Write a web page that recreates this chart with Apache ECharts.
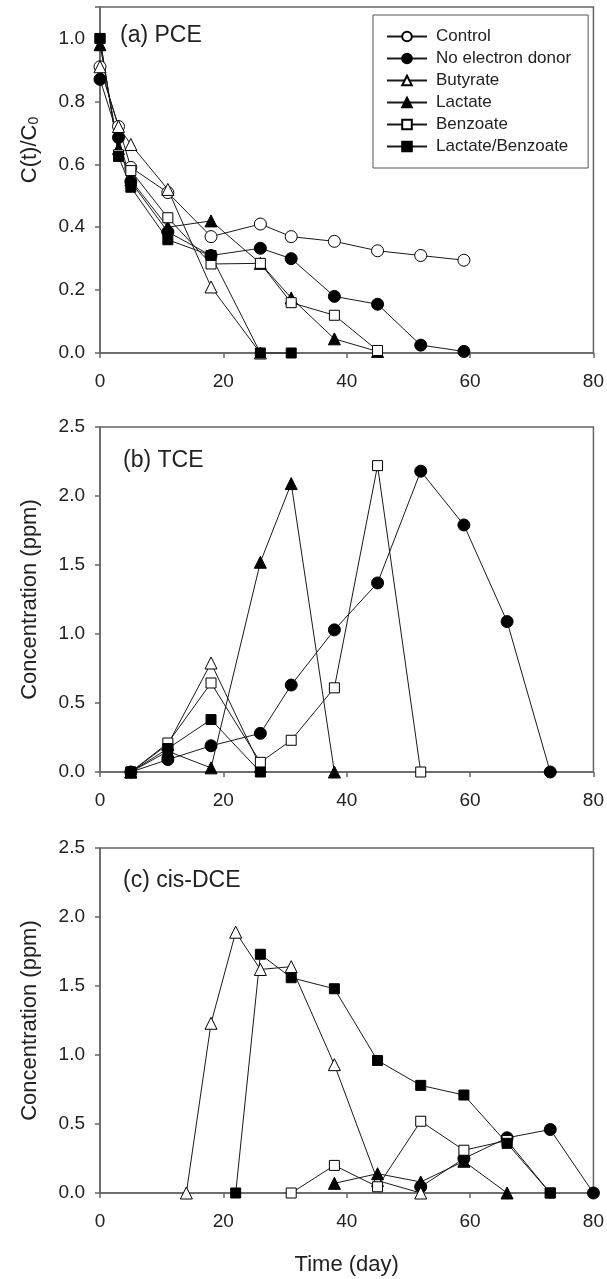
<!DOCTYPE html>
<html>
<head>
<meta charset="utf-8">
<script src="https://cdn.jsdelivr.net/npm/echarts@6/dist/echarts.min.js"></script>
<style>html,body{margin:0;padding:0;background:#fff;}#c{width:607px;height:1279px;}</style>
</head>
<body>
<div id="c"></div>
<script>
// ---- data ----
const seriesNames = ['Control','No electron donor','Butyrate','Lactate','Benzoate','Lactate/Benzoate'];
const xTicks = [0, 20, 40, 60, 80];

// (a) PCE, C(t)/C0
const daysA = [0, 3, 5, 11, 18, 26, 31, 38, 45, 52, 59];
const pceControl  = [0.91, 0.72, 0.59, 0.51, 0.37, 0.41, 0.37, 0.355, 0.325, 0.31, 0.295];
const pceNoDonor  = [0.87, 0.685, 0.545, 0.385, 0.31, 0.333, 0.30, 0.18, 0.155, 0.025, 0.005];
const pceButyrate = [0.91, 0.72, 0.663, 0.52, 0.21, 0.0, null, null, null, null, null];
const pceLactate  = [0.98, 0.65, 0.55, 0.40, 0.42, 0.285, 0.175, 0.045, 0.005, null, null];
const pceBenzoate = [1.0, 0.63, 0.58, 0.43, 0.283, 0.285, 0.16, 0.12, 0.008, null, null];
const pceLacBenz  = [1.0, 0.625, 0.527, 0.36, 0.31, 0.0, 0.0, null, null, null, null];

// (b) TCE, ppm
const daysB = [5, 11, 18, 26, 31, 38, 45, 52, 59, 66, 73];
const tceNoDonor  = [0, 0.09, 0.19, 0.28, 0.63, 1.03, 1.37, 2.18, 1.79, 1.09, 0];
const tceButyrate = [0, 0.2, 0.79, 0.04, null, null, null, null, null, null, null];
const tceLactate  = [0, 0.15, 0.03, 1.52, 2.09, 0, null, null, null, null, null];
const tceBenzoate = [0, 0.21, 0.645, 0.07, 0.23, 0.61, 2.22, 0, null, null, null];
const tceLacBenz  = [0, 0.17, 0.38, 0, null, null, null, null, null, null, null];

// (c) cis-DCE, ppm
const daysC = [14, 18, 22, 26, 31, 38, 45, 52, 59, 66, 73, 80];
const dceNoDonor  = [null, null, null, null, null, null, null, 0.045, 0.25, 0.40, 0.46, 0];
const dceButyrate = [0, 1.23, 1.89, 1.62, 1.64, 0.93, 0.09, 0, null, null, null, null];
const dceLactate  = [null, null, null, null, null, 0.07, 0.14, 0.08, 0.23, 0, null, null];
const dceBenzoate = [null, null, null, null, 0, 0.2, 0.045, 0.52, 0.31, 0.38, 0, null];
const dceLacBenz  = [null, null, 0, 1.73, 1.56, 1.48, 0.96, 0.78, 0.71, 0.36, 0, null];

// ---- styles ----
const FONT = 'Liberation Sans, Arial, sans-serif';
const AX = '#666';
const LINE = '#1a1a1a';
const markerStyle = {
  'Control':           {symbol: 'circle',   size: 12, fill: '#fff'},
  'No electron donor': {symbol: 'circle',   size: 12, fill: '#000'},
  'Butyrate':          {symbol: 'triangle', size: 12, fill: '#fff'},
  'Lactate':           {symbol: 'triangle', size: 12, fill: '#000'},
  'Benzoate':          {symbol: 'rect',     size: 10, fill: '#fff'},
  'Lactate/Benzoate':  {symbol: 'rect',     size: 10, fill: '#000'}
};

function pairs(days, vals) {
  const out = [];
  days.forEach((d, i) => { if (vals[i] !== null && vals[i] !== undefined) out.push([d, vals[i]]); });
  return out;
}
function mk(name, idx, days, vals) {
  const m = markerStyle[name];
  return {
    name: name, type: 'line', xAxisIndex: idx, yAxisIndex: idx,
    data: pairs(days, vals), symbol: m.symbol, symbolSize: m.size, showSymbol: true,
    clip: false, animation: false,
    lineStyle: {color: LINE, width: 1},
    itemStyle: {color: m.fill, borderColor: '#000', borderWidth: 1},
    emphasis: {disabled: true}
  };
}

const grids = [
  {left: 100, top: 7, width: 495, height: 346},
  {left: 100, top: 427, width: 495, height: 345},
  {left: 100, top: 848, width: 495, height: 345}
].map(g => Object.assign(g, {show: true, borderColor: AX, borderWidth: 1.5, backgroundColor: 'transparent'}));

function xAxis(idx, withName) {
  return {
    type: 'value', gridIndex: idx, min: 0, max: 80, interval: 20,
    axisLine: {show: true, lineStyle: {color: AX, width: 1.5}},
    axisTick: {show: true, inside: false, length: 5, lineStyle: {color: AX, width: 1.5}},
    axisLabel: {color: '#222', fontSize: 19, fontFamily: FONT, margin: 19,
      formatter: v => xTicks.indexOf(v) >= 0 ? String(v) : ''},
    splitLine: {show: false},
    name: withName ? 'Time (day)' : '', nameLocation: 'middle', nameGap: 61,
    nameTextStyle: {color: '#222', fontSize: 22, fontFamily: FONT}
  };
}
function yAxis(idx, max, interval, name) {
  return {
    type: 'value', gridIndex: idx, min: 0, max: max, interval: interval,
    axisLine: {show: true, lineStyle: {color: AX, width: 1.5}},
    axisTick: {show: true, inside: false, length: 5, lineStyle: {color: AX, width: 1.5}},
    axisLabel: {color: '#222', fontSize: 19, fontFamily: FONT, margin: 15,
      formatter: v => (v > max - 1e-9 && idx === 0) ? '' : v.toFixed(1)},
    splitLine: {show: false},
    name: name, nameLocation: 'middle', nameGap: 59,
    nameTextStyle: {color: '#222', fontSize: 22, fontFamily: FONT}
  };
}

const option = {
  backgroundColor: '#fff',
  animation: false,
  textStyle: {fontFamily: FONT},
  grid: grids,
  xAxis: [xAxis(0, false), xAxis(1, false), xAxis(2, true)],
  yAxis: [yAxis(0, 1.1, 0.2, ''), yAxis(1, 2.5, 0.5, 'Concentration (ppm)'), yAxis(2, 2.5, 0.5, 'Concentration (ppm)')],
  legend: {
    data: seriesNames, orient: 'vertical', left: 373, top: 15,
    backgroundColor: '#fff', borderColor: '#555', borderWidth: 1,
    padding: [13, 17, 13, 13], itemGap: 5, itemWidth: 40, itemHeight: 12,
    selectedMode: false,
    textStyle: {color: '#222', fontSize: 17, lineHeight: 17, fontFamily: FONT, padding: [0, 0, 0, 4]}
  },
  graphic: [
    {type: 'text', left: 120, top: 24, style: {text: '(a) PCE', font: '23px ' + FONT, fill: '#222'}},
    {type: 'text', left: 123, top: 449, style: {text: '(b) TCE', font: '23px ' + FONT, fill: '#222'}},
    {type: 'text', left: 123, top: 869, style: {text: '(c) cis-DCE', font: '23px ' + FONT, fill: '#222'}},
    {type: 'text', x: 30, y: 150, rotation: Math.PI / 2,
      style: {text: '{m|C(t)/C}{s|0}', textAlign: 'center', textVerticalAlign: 'middle',
        rich: {m: {fontSize: 22, fontFamily: FONT, fill: '#222'}, s: {fontSize: 14, fontFamily: FONT, fill: '#222', verticalAlign: 'bottom', padding: [9, 0, 0, 0]}}}}
  ],
  series: [
    mk('Control', 0, daysA, pceControl),
    mk('No electron donor', 0, daysA, pceNoDonor),
    mk('Butyrate', 0, daysA, pceButyrate),
    mk('Lactate', 0, daysA, pceLactate),
    mk('Benzoate', 0, daysA, pceBenzoate),
    mk('Lactate/Benzoate', 0, daysA, pceLacBenz),
    mk('No electron donor', 1, daysB, tceNoDonor),
    mk('Butyrate', 1, daysB, tceButyrate),
    mk('Lactate', 1, daysB, tceLactate),
    mk('Benzoate', 1, daysB, tceBenzoate),
    mk('Lactate/Benzoate', 1, daysB, tceLacBenz),
    mk('No electron donor', 2, daysC, dceNoDonor),
    mk('Butyrate', 2, daysC, dceButyrate),
    mk('Lactate', 2, daysC, dceLactate),
    mk('Benzoate', 2, daysC, dceBenzoate),
    mk('Lactate/Benzoate', 2, daysC, dceLacBenz)
  ]
};
const chart = echarts.init(document.getElementById('c'), null, {renderer: 'canvas'});
chart.setOption(option);
</script>
</body>
</html>
